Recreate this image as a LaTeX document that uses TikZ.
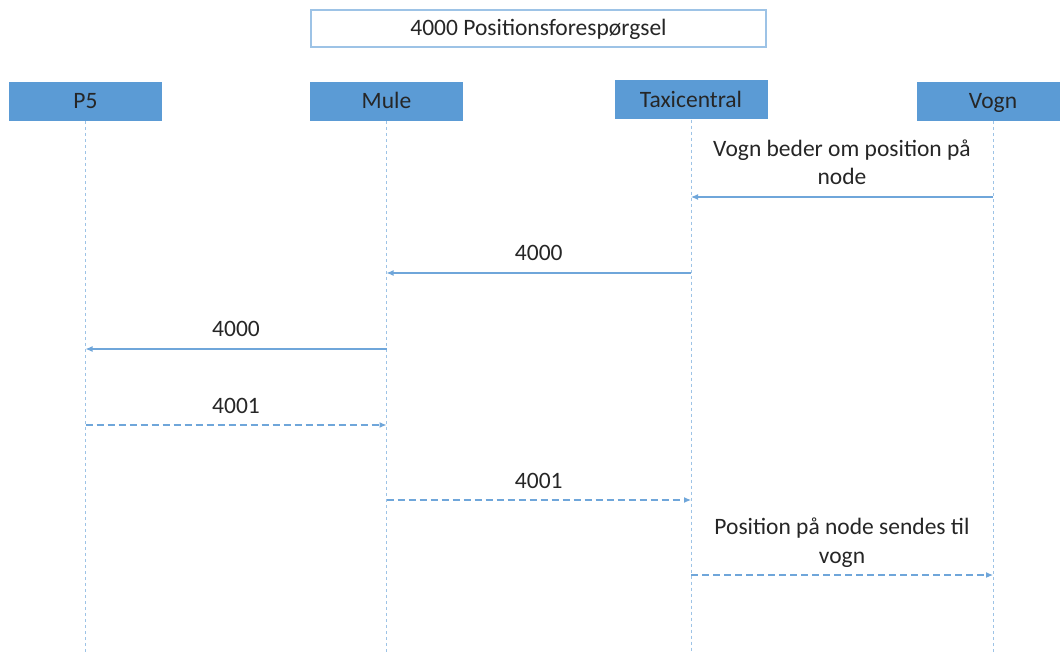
\documentclass[tikz,border=0pt]{standalone}
\usepackage{fontspec}
\setmainfont{Carlito}
\usetikzlibrary{arrows.meta}
\definecolor{boxblue}{HTML}{5B9BD5}
\definecolor{lightblue}{HTML}{9DC3E6}
\definecolor{arrowblue}{HTML}{6FA6DA}
\definecolor{txt}{HTML}{262626}
\begin{document}
\begin{tikzpicture}[x=1pt,y=-1pt,
  font=\fontsize{23.5}{28.5}\selectfont,
  actor/.style={fill=boxblue, draw=none, minimum width=153pt, minimum height=39pt,
    inner sep=0pt, text=txt, text height=15pt, text depth=0pt},
  titlebox/.style={draw=lightblue, line width=1.3pt, fill=white, minimum width=455pt,
    minimum height=37pt, inner sep=0pt, text=txt, text height=15pt, text depth=0pt},
  life/.style={draw=lightblue, line width=0.9pt, dash pattern=on 3pt off 3pt},
  msg/.style={draw=arrowblue, line width=1.1pt, -{Latex[length=7pt,width=6pt]}},
  reply/.style={msg, dash pattern=on 7pt off 4pt},
  lbl/.style={midway, anchor=base, yshift=12pt, align=center, text=txt, inner sep=0pt}]
\useasboundingbox (0,0) rectangle (1060,652);
\clip (0,0) rectangle (1060,652);
\fill[white] (0,0) rectangle (1060,652);

\node[titlebox] (title) at (538.5,28.5) {4000 Positionsforespørgsel};

\node[actor] (p5)   at (85.5,101.5)  {P5};
\node[actor] (mule) at (386.5,101.5) {Mule};
\node[actor] (taxi) at (691,100)     {Taxicentral};
\node[actor] (vogn) at (993,101.5)   {Vogn};

\coordinate (bot) at (0,652);
\draw[life] (p5.south)   -- (p5.south |- bot);
\draw[life] (mule.south) -- (mule.south |- bot);
\draw[life] (taxi.south) -- (taxi.south |- bot);
\draw[life] (vogn.south) -- (vogn.south |- bot);

\coordinate (m1) at (0,197);
\coordinate (m2) at (0,273);
\coordinate (m3) at (0,349);
\coordinate (m4) at (0,425);
\coordinate (m5) at (0,500);
\coordinate (m6) at (0,575);

\draw[msg] (vogn.south |- m1) -- (taxi.south |- m1)
  node[lbl] (l1) {Vogn beder om position på\\node};
\draw[msg] (taxi.south |- m2) -- (mule.south |- m2) node[lbl] (l2) {4000};
\draw[msg] (mule.south |- m3) -- (p5.south |- m3) node[lbl] (l3) {4000};
\draw[reply] (p5.south |- m4) -- (mule.south |- m4) node[lbl] (l4) {4001};
\draw[reply] (mule.south |- m5) -- (taxi.south |- m5) node[lbl] (l5) {4001};
\draw[reply] (taxi.south |- m6) -- (vogn.south |- m6)
  node[lbl] (l6) {Position på node sendes til\\vogn};
\end{tikzpicture}
\end{document}
